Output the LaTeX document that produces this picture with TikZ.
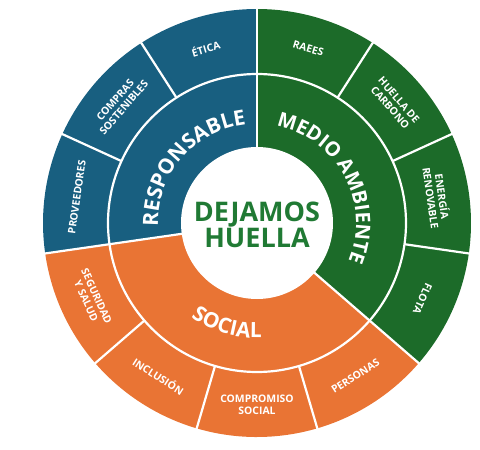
\documentclass[tikz,border=0pt]{standalone}
\usepackage{fontspec}
\setmainfont{Open Sans}
\usetikzlibrary{decorations.text}
\definecolor{azul}{RGB}{24,95,128}
\definecolor{verde}{RGB}{28,107,41}
\definecolor{naranja}{RGB}{233,116,52}
\definecolor{verdetit}{RGB}{32,122,52}
\tikzset{
  sep/.style={white,line width=2.2pt},
  etiq/.style={text=white,font=\bfseries\fontsize{10.4}{11.5}\selectfont,align=center,inner sep=0pt},
  anillo/.style 2 args={decorate,decoration={text along path,text align=center,
    text={|\color{white}\bfseries\fontsize{#1}{#1}\selectfont|#2}}}
}
\begin{document}
\begin{tikzpicture}[x=1pt,y=1pt]
\useasboundingbox (-257,-227) rectangle (223,223);
\def\paso{32.7273}
% sectores
\fill[azul] (0,0) -- (90:214) arc[start angle=90,end angle=188.18,radius=214] -- cycle;
\fill[naranja] (0,0) -- (188.18:214) arc[start angle=188.18,end angle=319.09,radius=214] -- cycle;
\fill[verde] (0,0) -- (319.09:214) arc[start angle=319.09,end angle=450,radius=214] -- cycle;
\fill[white] (0,0) circle[radius=76];
% separadores
\draw[sep] (0,0) circle[radius=149];
\foreach \i in {0,...,10}
  \draw[sep] ({90+\i*\paso}:149) -- ({90+\i*\paso}:216);
\foreach \i in {0,3,7}
  \draw[sep] ({90+\i*\paso}:75) -- ({90+\i*\paso}:149);
% anillo interior
\path[anillo={21}{RESPONSABLE}] (188.18:99) arc[start angle=188.18,end angle=90,radius=99];
\path[anillo={20}{MEDIO AMBIENTE}] (97:99) arc[start angle=97,end angle=-40.91,radius=99];
\path[anillo={21}{SOCIAL}] (188.18:115) arc[start angle=188.18,end angle=319.09,radius=115];
% anillo exterior
\foreach \i/\r/\t in {0/-90/ÉTICA, 1/-90/{COMPRAS\\SOSTENIBLES}, 2/-90/PROVEEDORES,
    3/90/{SEGURIDAD\\Y SALUD}, 4/90/INCLUSIÓN, 5/90/{COMPROMISO\\SOCIAL}, 6/90/PERSONAS,
    7/-90/FLOTA, 8/-90/{ENERGÍA\\RENOVABLE}, 9/-90/{HUELLA DE\\CARBONO}, 10/-90/RAEES}
  \node[etiq,rotate={90+(\i+0.5)*\paso+\r}] (e\i) at ({90+(\i+0.5)*\paso}:182) {\t};
% centro
\node[font=\bfseries\fontsize{27}{25}\selectfont,text=verdetit,align=center] (centro) at (0,-2) {DEJAMOS\\HUELLA};
\end{tikzpicture}
\end{document}
